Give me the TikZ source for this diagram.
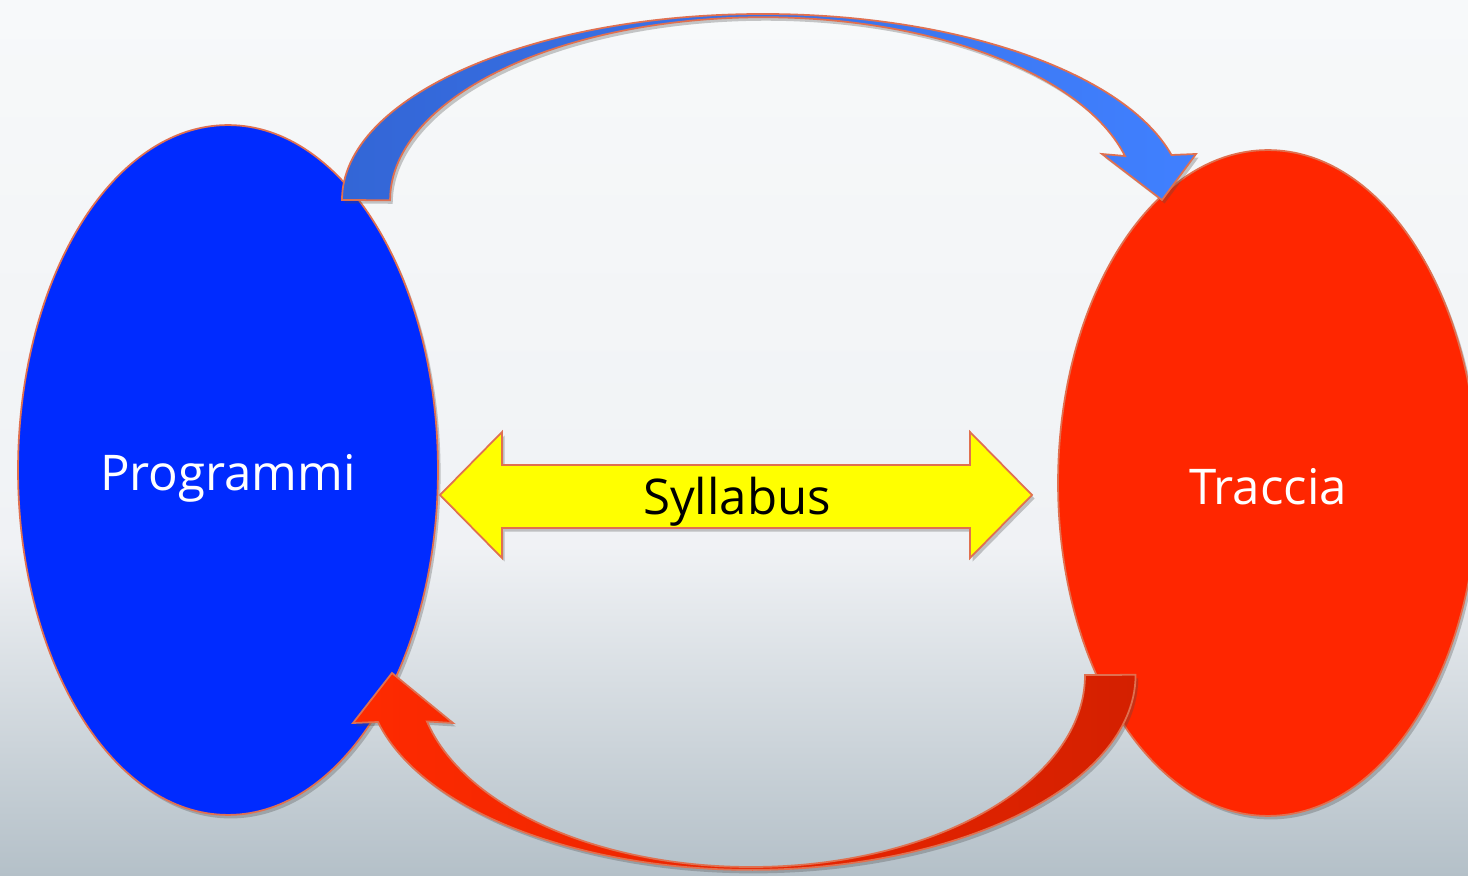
\documentclass[tikz,border=0pt]{standalone}
\usepackage{fontspec}
\setmainfont{Open Sans}
\usetikzlibrary{shapes.geometric,shadows}
\definecolor{bgtop}{RGB}{247,249,250}
\definecolor{bgmid}{RGB}{240,242,245}
\definecolor{bgbot}{RGB}{180,192,200}
\definecolor{progblue}{RGB}{0,43,255}
\definecolor{tracred}{RGB}{255,38,0}
\definecolor{rim}{RGB}{224,112,80}
\definecolor{arrblueA}{RGB}{51,102,214}
\definecolor{arrblueB}{RGB}{64,128,255}
\definecolor{arrredA}{RGB}{255,42,0}
\definecolor{arrredB}{RGB}{212,32,0}
\definecolor{syllyellow}{RGB}{255,255,0}
\tikzset{
  softshadow/.style={drop shadow={shadow xshift=1.5pt,shadow yshift=-2pt,opacity=.3,fill=black!70}},
  oval/.style={ellipse,draw=rim,line width=1pt,inner sep=0pt,text=white,
    font=\fontsize{28}{33}\selectfont,softshadow},
  band/.style={draw=rim,line width=1pt,softshadow},
  label/.style={font=\fontsize{28}{33}\selectfont,text=black}
}
\begin{document}
\begin{tikzpicture}[x=0.02cm,y=0.02cm]
  \useasboundingbox (0,0) rectangle (1468,876);
  \clip (0,0) rectangle (1468,876);
  \fill[top color=bgtop,bottom color=bgmid] (0,330) rectangle (1468,876);
  \fill[top color=bgmid,bottom color=bgbot] (0,0) rectangle (1468,330);

  \node[oval,fill=progblue,minimum width=8.4cm,minimum height=13.8cm] (prog) at (228,406) {\raisebox{-0.17cm}[\height][\depth]{Programmi}};
  \node[oval,fill=tracred,minimum width=8.4cm,minimum height=13.32cm] (trac) at (1268,393) {\raisebox{-0.08cm}[\height][\depth]{Traccia}};

  \coordinate (toptail) at (342,676);
  \coordinate (toptip) at (1162,676);
  \coordinate (bottail) at (1085,201);
  \coordinate (bottip) at (392,203);

  \path[band,left color=arrblueA,right color=arrblueB]
    (toptail) arc[start angle=180,end angle=14,x radius=421,y radius=186]
    -- (1196,722) -- (toptip) -- (1102,722) -- (1125,720)
    arc[start angle=14,end angle=180,x radius=373,y radius=183] -- cycle;
  \path[band,left color=arrredA,right color=arrredB]
    (bottail) arc[start angle=0,end angle=-166,x radius=334,y radius=192]
    -- (453,153) -- (bottip) -- (353,153) -- (378,154)
    arc[start angle=-166,end angle=0,x radius=384.5,y radius=195] -- cycle;

  \path[band,fill=syllyellow]
    (440,381) -- (502,444) -- (502,411) -- (970,411) -- (970,444) -- (1032,381)
    -- (970,318) -- (970,348) -- (502,348) -- (502,318) -- cycle;
  \node[label] (syll) at (737,374) {Syllabus};
\end{tikzpicture}
\end{document}
